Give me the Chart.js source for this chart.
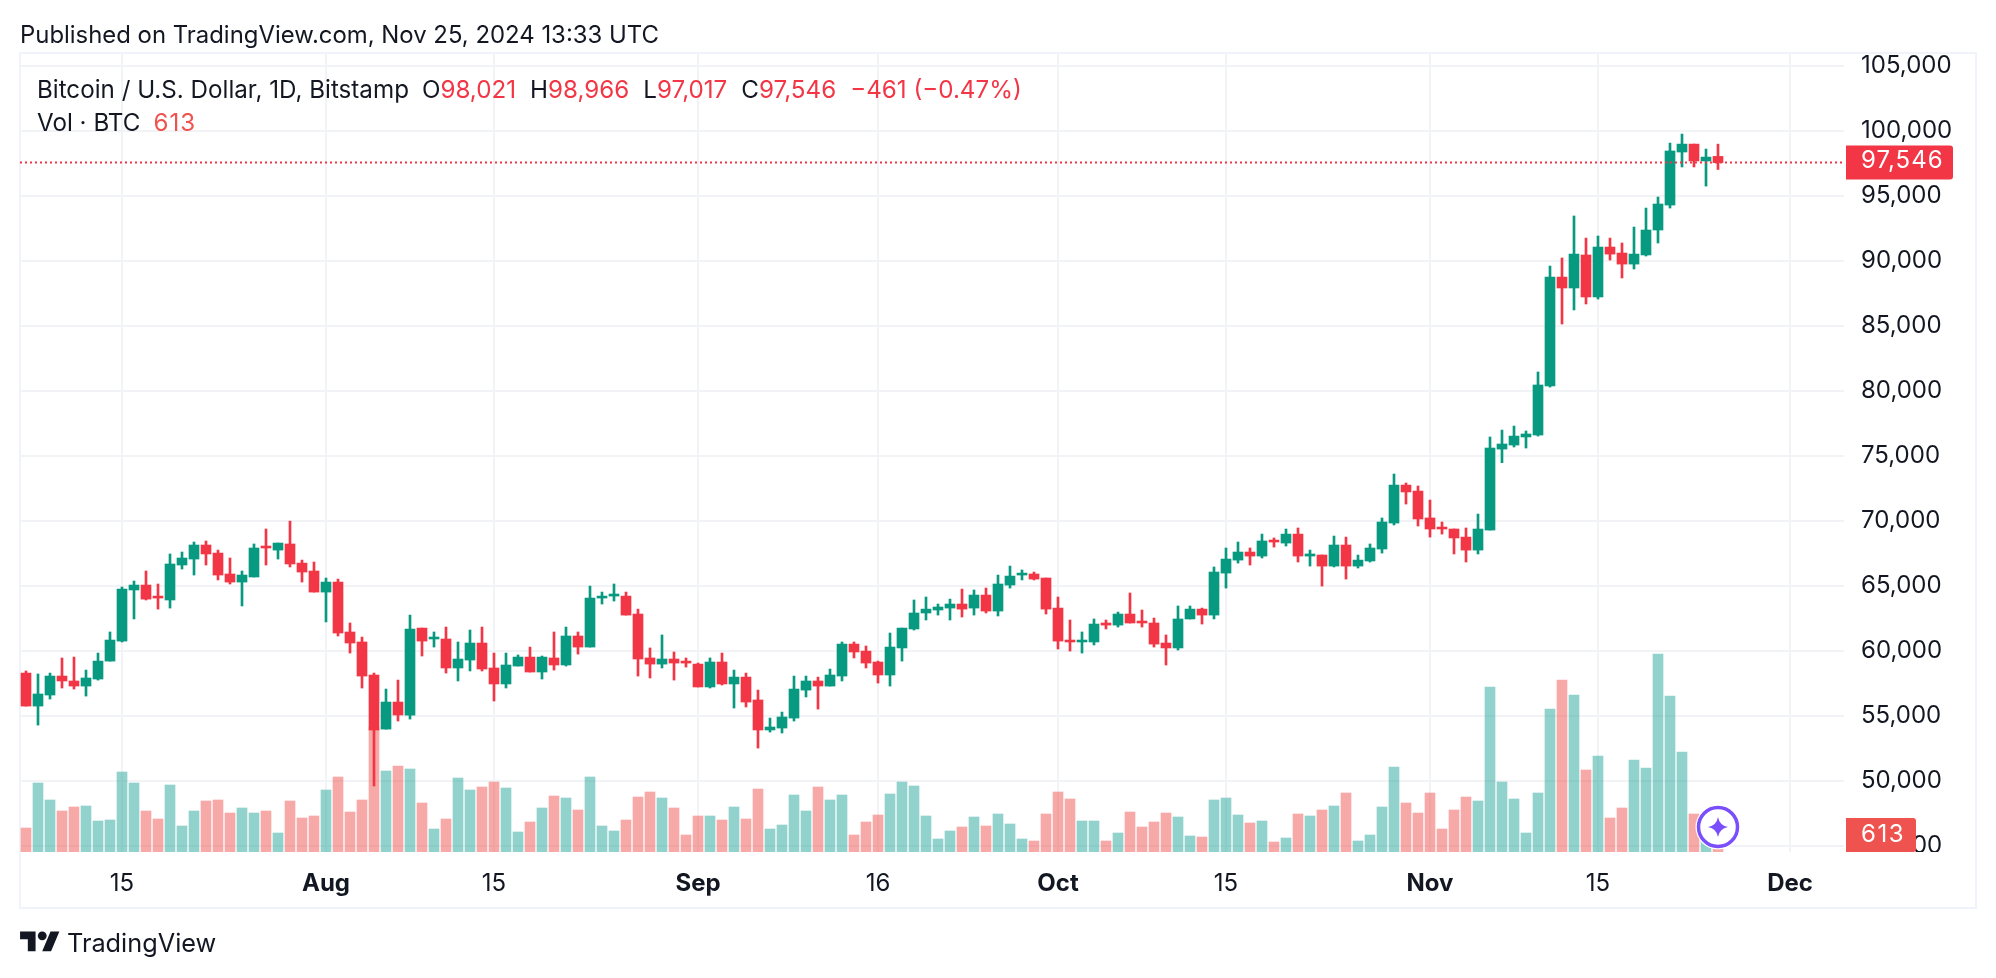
<!DOCTYPE html>
<html>
<head>
<meta charset="utf-8">
<title>BTCUSD</title>
<script src="https://cdn.jsdelivr.net/npm/chart.js@4/dist/chart.umd.min.js"></script>
<style>
  html, body { margin: 0; padding: 0; background: #fff; }
  body { width: 1996px; height: 978px; position: relative; overflow: hidden;
         font-family: Inter, "Noto Sans", sans-serif; color: #131722; }
  #frame { position: absolute; left: 19px; top: 52px; width: 1958px; height: 857px;
           box-sizing: border-box; border: 2px solid #f0f3fa; }
  canvas { position: absolute; left: 0; top: 0; }
  .txt { position: absolute; white-space: pre; }
  #published { left: 20px; top: 20px; font-size: 23.9px; line-height: 30px; }
  #legend1 { left: 37px; top: 75px; font-size: 24.2px; line-height: 30px; }
  #legend2 { left: 37px; top: 108px; font-size: 24.2px; line-height: 30px; }
  #brand { left: 67px; top: 927px; font-size: 25.3px; line-height: 32px; }
  #logo { position: absolute; left: 20px; top: 927px; }
  .r { color: #f23645; }
  .v { color: #ef5350; letter-spacing: 1px; }
  .g { margin-left: 14px; }
  .g2 { margin-left: 13px; }
</style>
</head>
<body>
<div id="frame"></div>
<canvas id="grafico" width="1996" height="978"></canvas>
<div class="txt" id="published">Published on TradingView.com, Nov 25, 2024 13:33 UTC</div>
<div class="txt" id="legend1">Bitcoin / U.S. Dollar, 1D, Bitstamp<span class="g2">O</span><span class="r">98,021</span><span class="g">H</span><span class="r">98,966</span><span class="g">L</span><span class="r">97,017</span><span class="g">C</span><span class="r">97,546</span><span class="g r">−461 (−0.47%)</span></div>
<div class="txt" id="legend2">Vol · BTC<span class="g2 v">613</span></div>
<svg id="logo" width="40" height="31" viewBox="0 0 36 28"><path fill="#131722" d="M14 22H7V11H0V4h14v18zM28 22h-8l7.5-18h8L28 22z"/><circle fill="#131722" cx="20" cy="8" r="4"/></svg>
<div class="txt" id="brand">TradingView</div>

<script>
// dias do eixo x (jul 7 ate dez 5)
const categories = [
  '07-07','07-08','07-09','07-10','07-11','07-12','07-13','07-14','07-15','07-16','07-17','07-18','07-19',
  '07-20','07-21','07-22','07-23','07-24','07-25','07-26','07-27','07-28','07-29','07-30','07-31',
  '08-01','08-02','08-03','08-04','08-05','08-06','08-07','08-08','08-09','08-10','08-11','08-12','08-13',
  '08-14','08-15','08-16','08-17','08-18','08-19','08-20','08-21','08-22','08-23','08-24','08-25','08-26',
  '08-27','08-28','08-29','08-30','08-31',
  '09-01','09-02','09-03','09-04','09-05','09-06','09-07','09-08','09-09','09-10','09-11','09-12','09-13',
  '09-14','09-15','09-16','09-17','09-18','09-19','09-20','09-21','09-22','09-23','09-24','09-25','09-26',
  '09-27','09-28','09-29','09-30',
  '10-01','10-02','10-03','10-04','10-05','10-06','10-07','10-08','10-09','10-10','10-11','10-12','10-13',
  '10-14','10-15','10-16','10-17','10-18','10-19','10-20','10-21','10-22','10-23','10-24','10-25','10-26',
  '10-27','10-28','10-29','10-30','10-31',
  '11-01','11-02','11-03','11-04','11-05','11-06','11-07','11-08','11-09','11-10','11-11','11-12','11-13',
  '11-14','11-15','11-16','11-17','11-18','11-19','11-20','11-21','11-22','11-23','11-24','11-25','11-26',
  '11-27','11-28','11-29','11-30',
  '12-01','12-02','12-03','12-04','12-05'
];

const opens = [
  58280,55740,56590,58050,57670,57280,57820,59200,60740,64670,
  65050,64200,63900,66590,67050,68130,67510,65900,65280,65670,
  68050,67740,68210,66740,66130,64510,65280,61440,60670,58130,
  53970,56050,55050,61740,60900,60900,58670,59280,60590,58670,
  57440,58820,59510,58360,59440,58900,61130,60280,64050,64200,
  64200,62820,59440,58970,59360,59200,58970,57210,59130,57440,
  57970,56210,53900,54050,54820,56970,57670,57280,58050,60510,
  59970,59130,58130,60210,61670,62900,63130,63280,63590,63280,
  64280,63050,65050,65820,65900,65590,63280,60820,60670,60670,
  62130,61970,62820,62280,62130,60590,60210,62440,63200,62740,
  65970,66970,67590,67280,68510,68280,68970,67280,67360,66510,
  68130,66510,66900,67820,69820,72740,72280,70210,69510,69360,
  68740,67740,69280,75510,75820,76440,76590,80360,88740,87900,
  90440,87210,91050,90590,89740,90440,92360,94280,98360,98970,
  97670,98021
];
const highs = [
  58440,58210,58280,59440,59510,58510,59820,61440,64900,65360,
  66130,65130,67440,67590,68360,68440,67740,67130,66130,68210,
  69360,68280,69970,66970,66820,65590,65510,62130,61050,58280,
  57050,57740,62740,61740,61440,61820,60670,61590,61820,59820,
  59820,59670,60280,59590,61440,61820,61440,64970,64510,65130,
  64510,63200,60210,61210,59900,59440,59050,59440,59820,58510,
  58280,56970,54820,55280,58050,58050,57970,58590,60670,60670,
  60360,59200,61360,61740,63900,64130,63590,63970,64740,64670,
  64820,65820,66510,66210,66050,65590,64130,62360,61440,62440,
  62360,62970,64440,63130,62510,61210,63440,63440,63280,66440,
  67900,68360,67900,68970,68670,69360,69440,67740,67360,68820,
  68740,67360,68210,70210,73590,72900,72670,71590,69900,69360,
  69440,70510,76440,76970,77280,76900,81440,89590,90210,93440,
  91740,91900,91740,91360,92590,94050,94900,99050,99740,98970,
  98590,98966
];
const lows = [
  55740,54280,56280,57130,57050,56510,57740,59200,60670,62440,
  63900,63200,63280,66280,65820,66590,65440,65130,63440,65670,
  66590,67050,66440,65280,64510,62210,61130,59820,57130,49590,
  53970,54590,54740,59590,60280,58280,57670,58440,58440,56130,
  57130,58820,58360,57820,58510,58820,59740,60280,63590,63820,
  62740,58050,57900,58670,57740,58740,57210,57130,57360,55590,
  55670,52510,53740,53670,54590,56440,55510,57280,57670,59440,
  58670,57510,57280,59200,61590,62360,62740,62360,62590,62740,
  62900,62670,64820,65440,65440,62820,60130,59970,59820,60440,
  61670,61820,62130,61820,60280,58900,60050,62440,62050,62440,
  64820,66740,66590,67130,67970,68050,66820,66510,64970,66440,
  65510,66360,66820,67510,69670,71280,69590,68740,68970,67440,
  66820,67440,69280,74460,75670,75590,76510,80280,85130,86210,
  86670,87050,90050,88670,89360,90360,91360,94050,97210,97210,
  95740,97017
];
const closes = [
  55740,56670,58050,57670,57280,57900,59200,60820,64740,65050,
  63970,64050,66670,67130,68130,67440,65820,65280,65820,67900,
  67900,68280,66670,66050,64510,65280,61360,60590,58050,53900,
  56050,55050,61670,60740,61050,58670,59360,60590,58590,57440,
  58900,59510,58360,59510,58900,61130,60280,64050,64200,64360,
  62740,59360,58970,59360,59050,59050,57210,59130,57440,57970,
  56050,53900,54130,54900,57050,57670,57280,58130,60510,59900,
  59050,58130,60280,61740,62900,63200,63360,63590,63200,64280,
  63050,65130,65740,65970,65510,63200,60740,60670,60820,62050,
  61970,62820,62130,62130,60510,60210,62440,63200,62740,66050,
  67050,67590,67280,68440,68360,68970,67280,67440,66510,68130,
  66510,66970,67900,69900,72740,72210,70130,69360,69360,68670,
  67740,69360,75590,75900,76510,76670,80440,88740,87900,90510,
  87210,91050,90510,89740,90510,92360,94360,98440,98970,97670,
  97970,97546
];
const volumes = [
  960,2760,2080,1640,1800,1840,1240,1280,3200,2760,
  1640,1320,2680,1040,1640,2040,2080,1560,1760,1560,
  1640,760,2040,1360,1440,2480,3000,1600,2080,5000,
  3240,3440,3320,1960,920,1320,2960,2480,2600,2800,
  2560,800,1200,1760,2240,2160,1680,3000,1040,840,
  1280,2200,2400,2160,1760,680,1440,1440,1280,1800,
  1320,2520,920,1080,2280,1640,2600,2080,2280,680,
  1200,1480,2320,2800,2640,1440,520,840,1000,1400,
  1040,1520,1120,520,440,1520,2400,2120,1240,1240,
  440,760,1600,1000,1200,1560,1400,640,600,2080,
  2160,1480,1160,1240,400,560,1520,1440,1680,1840,
  2360,440,680,1800,3400,1960,1560,2360,920,1680,
  2200,2040,6600,2800,2120,760,2360,5720,6880,6280,
  3280,3840,1360,1760,3680,3360,7920,6240,4000,1520,
  1000,613
];

const priceTicks = [45000,50000,55000,60000,65000,70000,75000,80000,85000,90000,95000,100000,105000];
const timeTickDates = ['07-15','08-01','08-15','09-01','09-16','10-01','10-15','11-01','11-15','12-01'];
const timeTickLabels = ['15','Aug','15','Sep','16','Oct','15','Nov','15','Dec'];
const timeTickBold = [false,true,false,true,false,true,false,true,false,true];

const lastPrice = closes[closes.length - 1];
const lastVolume = volumes[volumes.length - 1];

const verde = '#089981';
const vermelho = '#f23645';
const volVerde = 'rgba(38,166,154,0.5)';
const volVermelho = 'rgba(239,83,80,0.5)';
const corGrade = '#f2f3f6';
const corTexto = '#131722';
const fonte = 'Inter, "Noto Sans", sans-serif';

const sobe = i => closes[i] >= opens[i];

function etiqueta(ctx, x, y, w, h, cor, texto, dy, espaco) {
  ctx.fillStyle = cor;
  ctx.beginPath();
  ctx.roundRect(x, y, w, h, [0, 3, 3, 0]);
  ctx.fill();
  ctx.fillStyle = '#fff';
  ctx.font = '24px ' + fonte;
  ctx.letterSpacing = espaco;
  ctx.textAlign = 'left';
  ctx.textBaseline = 'middle';
  ctx.fillText(texto, x + 15, y + h / 2 + dy);
  ctx.letterSpacing = '0px';
}

// linha pontilhada, etiquetas e o selo roxo
const extras = {
  id: 'extras',
  afterDatasetsDraw(chart) {
    const { ctx, chartArea, scales } = chart;
    const y = scales.y.getPixelForValue(lastPrice);
    ctx.save();
    ctx.strokeStyle = vermelho;
    ctx.lineWidth = 2;
    ctx.setLineDash([2, 3]);
    ctx.beginPath();
    ctx.moveTo(chartArea.left, y);
    ctx.lineTo(chartArea.right, y);
    ctx.stroke();
    ctx.restore();
  },
  afterDraw(chart) {
    const { ctx, chartArea, scales } = chart;
    const y = scales.y.getPixelForValue(lastPrice);
    ctx.save();
    // o rotulo de 45,000 fica cortado no fim do painel
    ctx.fillStyle = '#fff';
    ctx.fillRect(chartArea.right, chartArea.bottom, 130, 12);
    etiqueta(ctx, chartArea.right + 2, y - 17, 107, 34, vermelho, lastPrice.toLocaleString('en-US'), -1.5, '1px');
    etiqueta(ctx, chartArea.right + 2, chartArea.bottom - 34, 70, 34, '#ef5350', String(lastVolume), 0, '1.5px');

    const bx = scales.x.getPixelForValue(closes.length - 1);
    const by = chartArea.bottom - 25;
    ctx.fillStyle = '#fff';
    ctx.beginPath();
    ctx.arc(bx, by, 22.5, 0, Math.PI * 2);
    ctx.fill();
    ctx.strokeStyle = '#7a4ffb';
    ctx.lineWidth = 3.5;
    ctx.beginPath();
    ctx.arc(bx, by, 19.5, 0, Math.PI * 2);
    ctx.stroke();
    const r = 10;
    ctx.fillStyle = '#7a4ffb';
    ctx.beginPath();
    ctx.moveTo(bx, by - r);
    ctx.quadraticCurveTo(bx + 1.5, by - 1.5, bx + r, by);
    ctx.quadraticCurveTo(bx + 1.5, by + 1.5, bx, by + r);
    ctx.quadraticCurveTo(bx - 1.5, by + 1.5, bx - r, by);
    ctx.quadraticCurveTo(bx - 1.5, by - 1.5, bx, by - r);
    ctx.fill();
    ctx.restore();
  }
};

new Chart(document.getElementById('grafico'), {
  type: 'bar',
  data: {
    labels: categories,
    datasets: [
      {
        label: 'Vol',
        yAxisID: 'yVol',
        data: volumes,
        order: 3,
        grouped: false,
        barThickness: 10,
        backgroundColor: c => sobe(c.dataIndex) ? volVerde : volVermelho
      },
      {
        label: 'Pavio',
        yAxisID: 'y',
        data: lows.map((v, i) => [v, highs[i]]),
        order: 2,
        grouped: false,
        barThickness: 2,
        backgroundColor: c => sobe(c.dataIndex) ? verde : vermelho
      },
      {
        label: 'Corpo',
        yAxisID: 'y',
        data: opens.map((v, i) => [v, closes[i]]),
        order: 1,
        grouped: false,
        barThickness: 10,
        backgroundColor: c => sobe(c.dataIndex) ? verde : vermelho
      }
    ]
  },
  options: {
    responsive: false,
    devicePixelRatio: 1,
    animation: false,
    layout: { padding: { left: 20, top: 54, right: 20, bottom: 70 } },
    plugins: { legend: { display: false }, tooltip: { enabled: false } },
    scales: {
      x: {
        type: 'category',
        offset: true,
        border: { display: false },
        grid: { offset: false, color: corGrade, lineWidth: 2, drawTicks: false },
        afterBuildTicks: s => { s.ticks = timeTickDates.map(d => ({ value: categories.indexOf(d) })); },
        afterFit: s => { s.height = 56; },
        ticks: {
          autoSkip: false,
          maxRotation: 0,
          minRotation: 0,
          padding: 17,
          color: corTexto,
          font: c => ({ family: fonte, size: 24, weight: timeTickBold[c.index] ? '700' : '400' }),
          callback: (v, i) => timeTickLabels[i]
        }
      },
      y: {
        type: 'linear',
        position: 'right',
        min: 44515,
        max: 105900,
        border: { display: false },
        grid: { color: corGrade, lineWidth: 2, drawTicks: false },
        afterBuildTicks: s => { s.ticks = priceTicks.map(v => ({ value: v })); },
        afterFit: s => { s.width = 132; },
        ticks: {
          padding: 17,
          color: corTexto,
          font: { family: fonte, size: 24 },
          callback: v => Number(v).toLocaleString('en-US')
        }
      },
      yVol: {
        type: 'linear',
        display: false,
        min: 0,
        max: 31920
      }
    }
  },
  plugins: [extras]
});
</script>
</body>
</html>
